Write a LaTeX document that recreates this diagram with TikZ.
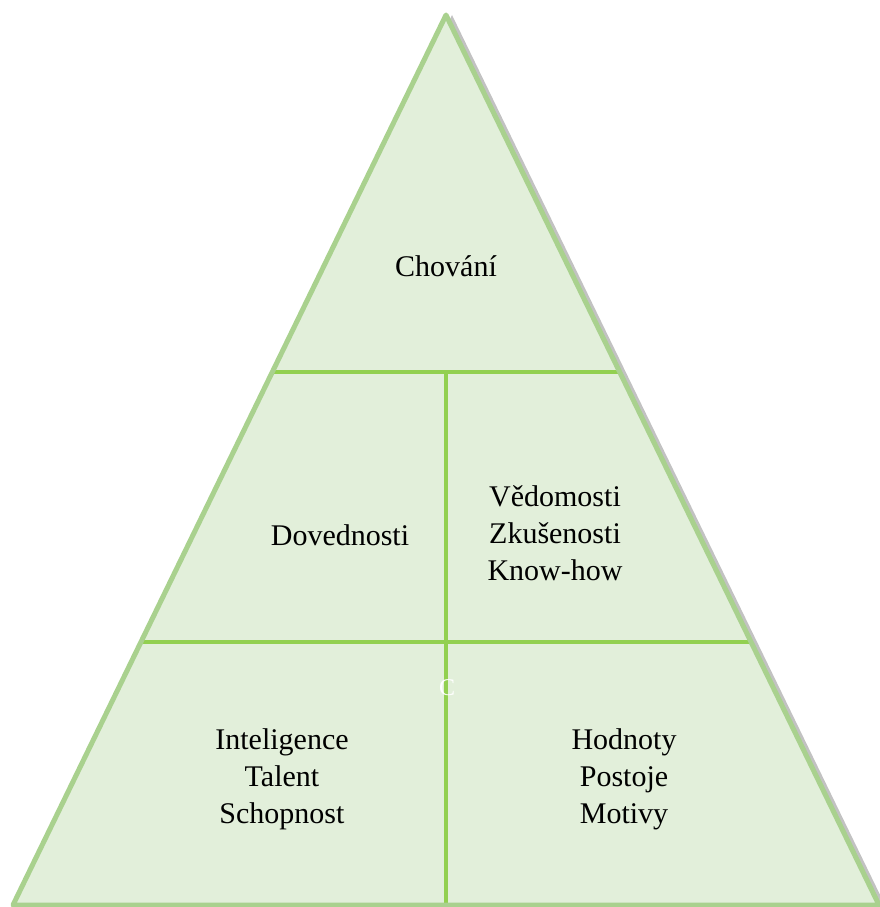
\documentclass[tikz,border=0pt]{standalone}
\usepackage{fontspec}
\setmainfont{Liberation Serif}
\usetikzlibrary{calc,shadows}
\definecolor{pyrfill}{HTML}{E2EFDA}
\definecolor{pyredge}{HTML}{A9D18E}
\definecolor{pyrline}{HTML}{92D050}
\tikzset{
  label text/.style={align=center,font=\fontsize{30}{37}\selectfont},
  divider/.style={pyrline,line width=3.5pt}
}
\begin{document}
\begin{tikzpicture}[x=1pt,y=-1pt,thick]
  \useasboundingbox (0,0) rectangle (880,907);

  % Corners
  \coordinate (apex) at (446,15);
  \coordinate (bl) at (13,905);
  \coordinate (br) at (879,905);
  \coordinate (l1) at ($(bl)!0.599!(apex)$);
  \coordinate (r1) at ($(br)!0.599!(apex)$);
  \coordinate (l2) at ($(bl)!0.2955!(apex)$);
  \coordinate (r2) at ($(br)!0.2955!(apex)$);

  % Triangle
  \fill[pyrfill,drop shadow={shadow xshift=6pt,shadow yshift=0pt,fill=black!60,opacity=0.4}]
    (apex) -- (bl) -- (br) -- cycle;

  % Dividers
  \draw[divider] (l1) -- (r1);
  \draw[divider] (l2) -- (r2);
  \draw[divider] (apex |- l1) -- (apex |- bl);

  % Outline
  \draw[pyredge,line width=5pt,line join=round] (apex) -- (bl) -- (br) -- cycle;

  % Labels
  \node[label text] (chovani) at (446,266) {Chování};
  \node[label text] (dovednosti) at (340,535) {Dovednosti};
  \node[label text] (vedomosti) at (555,533) {Vědomosti\\Zkušenosti\\Know-how};
  \node[label text] (inteligence) at (282,779) {Inteligence\\Talent\\Schopnost};
  \node[label text] (hodnoty) at (624,779) {Hodnoty\\Postoje\\Motivy};
  \node[white,font=\fontsize{24}{28}\selectfont] (mark) at (447,688) {C};
\end{tikzpicture}
\end{document}
